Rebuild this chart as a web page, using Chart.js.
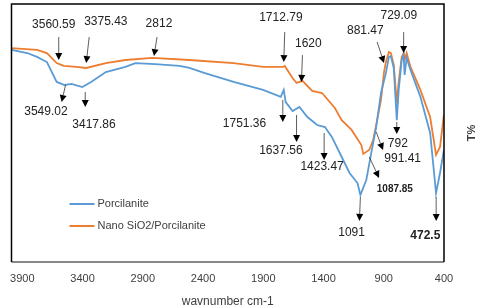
<!DOCTYPE html>
<html>
<head>
<meta charset="utf-8">
<script src="https://cdn.jsdelivr.net/npm/chart.js@4.4.1/dist/chart.umd.min.js"></script>
<style>
  html, body { margin: 0; padding: 0; background: #fff; }
  canvas { display: block; }
</style>
</head>
<body>
<canvas id="ftir" width="480" height="307"></canvas>
<script>
// wavenumber (cm-1) and transmittance values
const porcWn = [3990, 3859, 3778, 3696, 3655, 3615, 3549, 3492, 3402, 3329, 3207, 3044, 2962, 2799, 2595, 2513, 2391, 2146, 1902, 1755, 1730, 1714, 1657, 1600, 1534, 1453, 1388, 1331, 1249, 1184, 1118, 1094, 1045, 1004, 963, 923, 882, 857, 841, 817, 792, 776, 751, 735, 727, 710, 678, 596, 515, 466, 433, 401]
const porcT = [82.2, 81.0, 79.5, 77.5, 73.6, 69.8, 68.6, 69.0, 67.8, 69.8, 73.6, 75.6, 77.1, 76.7, 76.0, 75.2, 73.3, 69.8, 66.7, 64.0, 66.7, 62.0, 58.5, 60.1, 56.2, 53.1, 52.3, 48.5, 40.7, 34.5, 30.6, 26.0, 31.8, 42.2, 52.3, 65.5, 73.3, 79.5, 79.8, 75.2, 55.0, 66.7, 78.3, 80.2, 72.5, 79.1, 74.4, 64.0, 50.0, 26.7, 34.5, 43.4]

const nanoWn = [3990, 3778, 3696, 3615, 3557, 3451, 3370, 3207, 3044, 2823, 2513, 2146, 1902, 1738, 1722, 1657, 1624, 1575, 1494, 1412, 1306, 1249, 1167, 1086, 1070, 1021, 988, 955, 923, 898, 882, 857, 841, 817, 792, 776, 751, 735, 727, 710, 678, 596, 515, 466, 433, 401]
const nanoT = [82.9, 82.2, 81.0, 77.1, 76.0, 75.6, 75.2, 77.1, 78.3, 79.1, 78.3, 77.1, 75.6, 75.6, 76.0, 71.3, 69.4, 70.2, 66.3, 65.5, 59.7, 55.0, 51.2, 45.3, 41.9, 43.4, 47.3, 55.0, 62.8, 73.6, 77.5, 81.4, 81.0, 76.4, 61.6, 69.8, 79.5, 81.0, 78.3, 81.0, 75.6, 66.7, 56.2, 41.5, 44.6, 57.0]

const seriesNames = ['Porcilanite', 'Nano SiO2/Porcilanite']
const seriesColors = ['#5B9BD5', '#ED7D31']
const xTicks = [3900, 3400, 2900, 2400, 1900, 1400, 900, 400]

// peak labels: text, text anchor [wn, T], arrow tail [wn, T], arrow head [wn, T]
const peakText = ['3560.59', '3375.43', '2812', '3549.02', '3417.86', '1712.79', '1620', '881.47', '729.09', '1751.36', '1637.56', '1423.47', '792', '991.41', '1087.85', '1091', '472.5']
const peakAt = [[3639, 91.9], [3207, 93.0], [2766, 92.2], [3704, 58.1], [3305, 53.1], [1754, 94.6], [1526, 84.5], [1053, 89.5], [775, 95.3], [2056, 53.5], [1754, 43.0], [1412, 36.8], [783, 45.7], [743, 39.9], [808, 28.3], [1167, 11.2], [555, 10.1]]
const peakFrom = [[3598, 87.2], [3345, 87.2], [2782, 87.2], [3541, 68.6], [3378, 65.9], [1722, 89.1], [1575, 80.2], [955, 85.3], [735, 89.1], [1738, 62.8], [1624, 57.0], [1395, 50.0], [792, 54.3], [963, 50.4], [1020, 40.7], [1094, 25.2], [465, 25.2]]
const peakTo = [[3598, 78.3], [3370, 77.1], [2807, 79.8], [3574, 62.0], [3378, 60.1], [1730, 77.5], [1583, 69.8], [898, 77.1], [735, 81.0], [1738, 54.3], [1624, 46.5], [1395, 39.5], [792, 49.6], [906, 43.4], [939, 32.6], [1102, 15.9], [465, 15.9]]

const FONT = '"Liberation Sans", Arial, sans-serif'

function toXY(wn, t) {
    return wn.map((w, i) => ({ x: w, y: t[i] }))
}

const peaksPlugin = {
    id: 'peaks',
    afterDatasetsDraw(chart) {
        const { ctx, scales: { x, y } } = chart
        ctx.save()
        peakText.forEach((txt, i) => {
            const x1 = x.getPixelForValue(peakFrom[i][0]), y1 = y.getPixelForValue(peakFrom[i][1])
            const x2 = x.getPixelForValue(peakTo[i][0]), y2 = y.getPixelForValue(peakTo[i][1])
            const ang = Math.atan2(y2 - y1, x2 - x1)
            const hl = 7, hw = 3.5
            const bx = x2 - Math.cos(ang) * hl, by = y2 - Math.sin(ang) * hl
            ctx.strokeStyle = '#333'
            ctx.lineWidth = 0.8
            ctx.beginPath()
            ctx.moveTo(x1, y1)
            ctx.lineTo(bx, by)
            ctx.stroke()
            ctx.fillStyle = '#000'
            ctx.beginPath()
            ctx.moveTo(x2, y2)
            ctx.lineTo(bx + Math.sin(ang) * hw, by - Math.cos(ang) * hw)
            ctx.lineTo(bx - Math.sin(ang) * hw, by + Math.cos(ang) * hw)
            ctx.closePath()
            ctx.fill()

            if (txt === '1087.85') ctx.font = 'bold 10px ' + FONT
            else if (txt === '472.5') ctx.font = 'bold 12px ' + FONT
            else ctx.font = '12px ' + FONT
            ctx.fillStyle = '#222'
            ctx.textAlign = 'center'
            ctx.textBaseline = 'middle'
            ctx.fillText(txt, x.getPixelForValue(peakAt[i][0]), y.getPixelForValue(peakAt[i][1]))
        })
        ctx.restore()
    },
    afterDraw(chart) {
        const { ctx, chartArea: a } = chart
        ctx.save()
        // frame
        ctx.strokeStyle = '#888'
        ctx.lineWidth = 2
        ctx.beginPath()
        ctx.moveTo(a.left, a.bottom)
        ctx.lineTo(a.right, a.bottom)
        ctx.stroke()
        ctx.strokeStyle = '#000'
        ctx.lineWidth = 1.5
        ctx.beginPath()
        ctx.moveTo(a.left, a.bottom)
        ctx.lineTo(a.left, a.top)
        ctx.lineTo(a.right, a.top)
        ctx.lineTo(a.right, a.bottom)
        ctx.stroke()

        // legend inside plot
        ctx.font = '11px ' + FONT
        ctx.textAlign = 'left'
        ctx.textBaseline = 'middle'
        seriesNames.forEach((name, i) => {
            const ly = a.bottom - 58 + i * 22
            ctx.strokeStyle = seriesColors[i]
            ctx.lineWidth = 2
            ctx.beginPath()
            ctx.moveTo(a.left + 58, ly)
            ctx.lineTo(a.left + 83, ly)
            ctx.stroke()
            ctx.fillStyle = '#404040'
            ctx.fillText(name, a.left + 86, ly)
        })

        // right side title
        ctx.save()
        ctx.translate(472, (a.top + a.bottom) / 2)
        ctx.rotate(-Math.PI / 2)
        ctx.textAlign = 'center'
        ctx.font = 'bold 11px ' + FONT
        ctx.fillStyle = '#404040'
        ctx.fillText('T%', 0, 0)
        ctx.restore()
        ctx.restore()
    }
}

new Chart(document.getElementById('ftir'), {
    type: 'line',
    data: {
        datasets: [
            { label: seriesNames[0], data: toXY(porcWn, porcT), borderColor: seriesColors[0], borderWidth: 1.8, pointRadius: 0, tension: 0 },
            { label: seriesNames[1], data: toXY(nanoWn, nanoT), borderColor: seriesColors[1], borderWidth: 1.8, pointRadius: 0, tension: 0 }
        ]
    },
    options: {
        responsive: false,
        devicePixelRatio: 1,
        animation: false,
        layout: { padding: { left: 4, right: 36, top: 4, bottom: 0 } },
        plugins: { legend: { display: false }, tooltip: { enabled: false } },
        scales: {
            x: {
                type: 'linear',
                reverse: true,
                min: 400,
                max: 3990,
                grid: { display: false, drawTicks: false },
                border: { display: false },
                afterBuildTicks: (scale) => { scale.ticks = xTicks.map(v => ({ value: v })) },
                afterFit: (scale) => { scale.height = 45 },
                ticks: { padding: 10, maxRotation: 0, autoSkip: false, color: '#404040', font: { family: FONT, size: 11 }, callback: (v) => String(v) },
                title: { display: true, text: 'wavnumber cm-1', color: '#404040', font: { family: FONT, size: 12 }, padding: { top: 0, bottom: -2 } }
            },
            y: { display: false, min: 0, max: 100 }
        }
    },
    plugins: [peaksPlugin]
})
</script>
</body>
</html>
